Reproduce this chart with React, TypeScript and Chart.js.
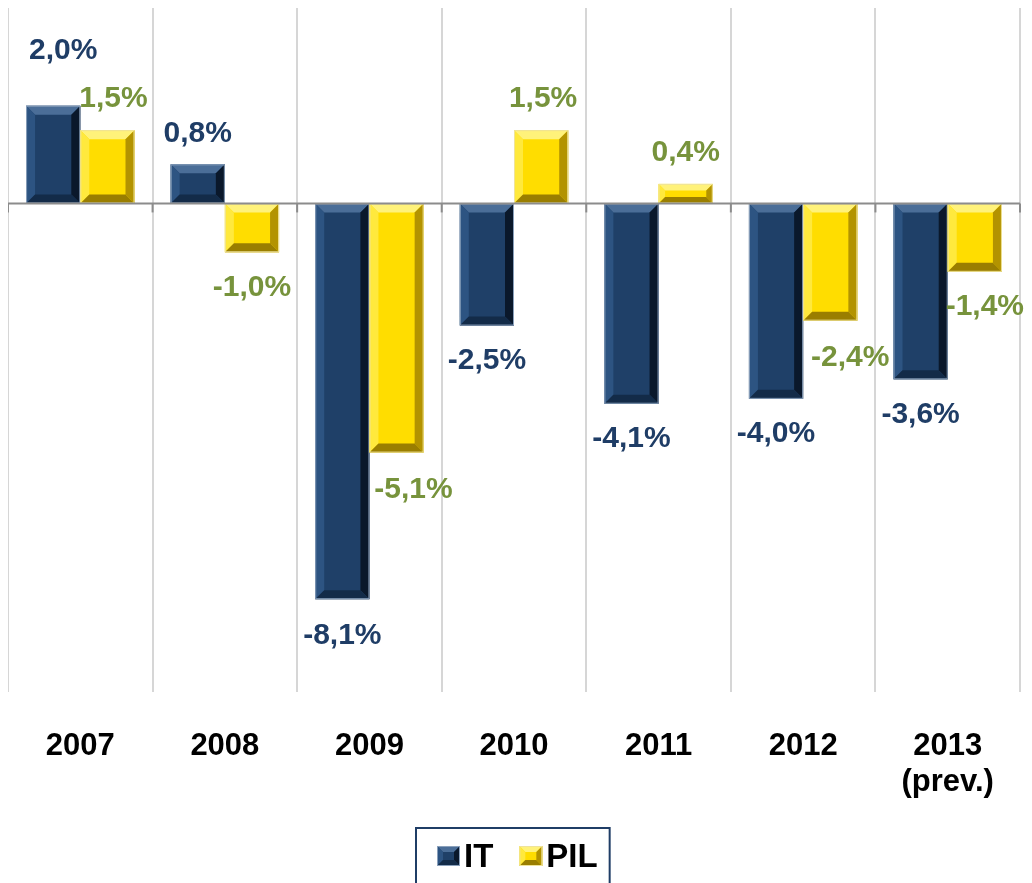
import React, { useEffect, useRef } from "react";
import { Chart, registerables } from "chart.js";

Chart.register(...registerables);

// ---- data ----
const categories = ["2007", "2008", "2009", "2010", "2011", "2012", "2013\n(prev.)"];
const seriesNames = ["IT", "PIL"];
const itValues = [2.0, 0.8, -8.1, -2.5, -4.1, -4.0, -3.6];
const pilValues = [1.5, -1.0, -5.1, 1.5, 0.4, -2.4, -1.4];
const yMin = -10;
const yMax = 4;

// ---- styles ----
const FONT = '"Liberation Sans", Arial, Helvetica, sans-serif';
const palettes = [
  { face: "#1f4068", top: "#4b6e98", left: "#2d5482", right: "#0a182b", bottom: "#132b48", edge: "#8aa0bb", label: "#1f3d66" },
  { face: "#ffdd00", top: "#fff27a", left: "#ffe93d", right: "#b39300", bottom: "#9a7e00", edge: "#efe39a", label: "#77933c" },
];
// small label nudges [dx, dy] per series / category (layout only)
const labelNudges = [
  [[10, -24], [0, 0], [0, 2], [0, 0], [0, 0], [0, 0], [0, 0]],
  [[6, 0], [0, 0], [17, 2], [2, 0], [0, 0], [20, 2], [10, 0]],
];

function poly(ctx: CanvasRenderingContext2D, pts: number[][], color: string) {
  ctx.beginPath();
  ctx.moveTo(pts[0][0], pts[0][1]);
  for (let i = 1; i < pts.length; i++) ctx.lineTo(pts[i][0], pts[i][1]);
  ctx.closePath();
  ctx.fillStyle = color;
  ctx.fill();
}

function bevelRect(ctx: CanvasRenderingContext2D, l: number, t: number, r: number, b: number, bw: number, pal: any) {
  const w = r - l;
  const h = b - t;
  if (w <= 0 || h <= 0) return;
  const bv = Math.max(1, Math.min(bw, w / 3, h / 3));
  ctx.fillStyle = pal.face;
  ctx.fillRect(l, t, w, h);
  poly(ctx, [[l, t], [r, t], [r - bv, t + bv], [l + bv, t + bv]], pal.top);
  poly(ctx, [[l, t], [l + bv, t + bv], [l + bv, b - bv], [l, b]], pal.left);
  poly(ctx, [[r, t], [r, b], [r - bv, b - bv], [r - bv, t + bv]], pal.right);
  poly(ctx, [[l, b], [l + bv, b - bv], [r - bv, b - bv], [r, b]], pal.bottom);
  ctx.strokeStyle = pal.edge;
  ctx.lineWidth = 1;
  ctx.strokeRect(l + 0.5, t + 0.5, w - 1, h - 1);
}

const fmt = (v: number) => v.toFixed(1).replace(".", ",") + "%";

const customPlugin = {
  id: "custom",
  beforeDatasetsDraw(chart: any) {
    const { ctx, chartArea, scales } = chart;
    const y0 = scales.y.getPixelForValue(0);
    ctx.save();
    ctx.strokeStyle = "#8c8c8c";
    ctx.lineWidth = 2;
    const n = categories.length;
    const step = (chartArea.right - chartArea.left) / n;
    for (let i = 0; i <= n; i++) {
      const x = chartArea.left + i * step;
      ctx.beginPath();
      ctx.moveTo(x, y0);
      ctx.lineTo(x, y0 + 9);
      ctx.stroke();
    }
    ctx.restore();
  },
  afterDatasetsDraw(chart: any) {
    const { ctx, chartArea, scales } = chart;
    const y0 = scales.y.getPixelForValue(0);
    ctx.save();
    chart.data.datasets.forEach((ds: any, di: number) => {
      const meta = chart.getDatasetMeta(di);
      meta.data.forEach((el: any) => {
        const p = el.getProps(["x", "y", "base", "width"], true);
        const l = p.x - p.width / 2;
        const r = p.x + p.width / 2;
        const t = Math.min(p.y, p.base);
        const b = Math.max(p.y, p.base);
        bevelRect(ctx, l, t, r, b, 9, palettes[di]);
      });
    });
    ctx.strokeStyle = "#8c8c8c";
    ctx.lineWidth = 2;
    ctx.beginPath();
    ctx.moveTo(chartArea.left, y0);
    ctx.lineTo(chartArea.right, y0);
    ctx.stroke();
    ctx.font = `bold 30px ${FONT}`;
    ctx.textAlign = "center";
    ctx.textBaseline = "middle";
    chart.data.datasets.forEach((ds: any, di: number) => {
      const meta = chart.getDatasetMeta(di);
      meta.data.forEach((el: any, i: number) => {
        const v = ds.data[i];
        const p = el.getProps(["x", "y"], true);
        const nd = labelNudges[di][i];
        const y = v >= 0 ? p.y - 31 : p.y + 35;
        ctx.fillStyle = palettes[di].label;
        ctx.fillText(fmt(v), p.x + nd[0], y + nd[1]);
      });
    });
    ctx.restore();
  },
  afterDraw(chart: any) {
    const { ctx, width } = chart;
    ctx.save();
    ctx.font = `bold 33px ${FONT}`;
    const markerW = 23;
    const markerH = 20;
    const gapMT = 4;
    const gapItems = 26;
    const padL = 21;
    const padR = 12;
    const names = chart.data.datasets.map((d: any) => d.label);
    const textW = names.map((s: string) => ctx.measureText(s).width);
    let inner = 0;
    names.forEach((_: string, i: number) => {
      inner += markerW + gapMT + textW[i];
      if (i < names.length - 1) inner += gapItems;
    });
    const boxW = padL + inner + padR;
    const boxL = Math.round(width / 2 - boxW / 2) - 3;
    const boxT = 820;
    ctx.strokeStyle = "#1f3d66";
    ctx.lineWidth = 2;
    ctx.strokeRect(boxL, boxT, boxW, 80);
    const cy = 848;
    let x = boxL + padL;
    ctx.textAlign = "left";
    ctx.textBaseline = "middle";
    names.forEach((s: string, i: number) => {
      bevelRect(ctx, x, cy - markerH / 2, x + markerW, cy + markerH / 2, 6, palettes[i]);
      x += markerW + gapMT;
      ctx.fillStyle = "#000000";
      ctx.fillText(s, x, cy + 2);
      x += textW[i] + gapItems;
    });
    ctx.restore();
  },
};

export default function App() {
  const canvasRef = useRef<HTMLCanvasElement | null>(null);

  useEffect(() => {
    if (!canvasRef.current) return;
    const chart = new Chart(canvasRef.current, {
      type: "bar",
      data: {
        labels: categories.map((c) => c.split("\n")),
        datasets: [
          { label: seriesNames[0], data: itValues, backgroundColor: "rgba(0,0,0,0)", borderWidth: 0 },
          { label: seriesNames[1], data: pilValues, backgroundColor: "rgba(0,0,0,0)", borderWidth: 0 },
        ],
      },
      options: {
        animation: false,
        responsive: true,
        maintainAspectRatio: false,
        layout: { padding: { top: 0, right: 4, left: 0, bottom: 0 } },
        datasets: { bar: { categoryPercentage: 0.75, barPercentage: 1.0 } },
        plugins: {
          legend: { display: false },
          tooltip: { enabled: false },
          title: { display: false },
        },
        scales: {
          x: {
            grid: {
              display: true,
              color: "#d6d6d6",
              lineWidth: 2,
              drawTicks: true,
              tickLength: 37,
              tickColor: "rgba(0,0,0,0)",
              offset: true,
            },
            border: { display: false },
            ticks: {
              color: "#000000",
              font: { family: FONT, size: 31, weight: "bold", lineHeight: 1.15 },
              padding: 0,
              maxRotation: 0,
              autoSkip: false,
            },
            afterFit: (axis: any) => {
              axis.height = 191;
            },
          },
          y: {
            display: false,
            min: yMin,
            max: yMax,
          },
        },
      },
      plugins: [customPlugin],
    });
    return () => chart.destroy();
  }, []);

  return (
    <div style={{ position: "fixed", left: "8px", top: "8px", width: "1016px", height: "875px" }}>
      <canvas ref={canvasRef} />
    </div>
  );
}
